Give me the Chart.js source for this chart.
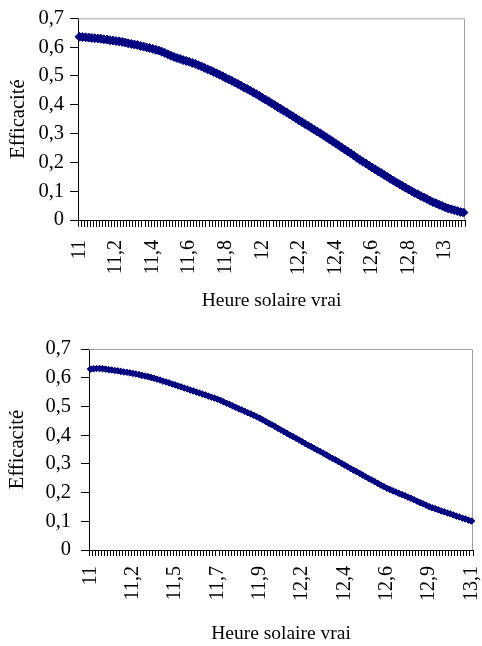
<!DOCTYPE html>
<html lang="fr">
<head>
    <meta charset="UTF-8">
    <title>Efficacité - Heure solaire vrai</title>
    <script src="https://cdn.jsdelivr.net/npm/chart.js"></script>
    <style>
        body { margin: 0; background: #fff; }
        .box { position: absolute; left: 0; width: 482px; }
        #top { top: 0; height: 313px; }
        #bottom { top: 320px; height: 326px; }
    </style>
</head>
<body>
    <div class="box" id="top"><canvas id="chartTop" width="482" height="313"></canvas></div>
    <div class="box" id="bottom"><canvas id="chartBottom" width="482" height="326"></canvas></div>

    <script>
        // one category per minute, from 11:00 to 13:06
        const minutes = Array.from({ length: 127 }, (_, i) => i);

        const topTickLabels = ['11', '11,2', '11,4', '11,6', '11,8', '12', '12,2', '12,4', '12,6', '12,8', '13'];
        const topLabelEvery = 12;
        const topValues = [
            0.636, 0.635, 0.634, 0.633, 0.632, 0.631, 0.630, 0.629,
            0.627, 0.626, 0.624, 0.623, 0.621, 0.620, 0.618,
            0.616, 0.613, 0.611, 0.609, 0.607, 0.604,
            0.602, 0.599, 0.597, 0.594, 0.591, 0.588,
            0.584, 0.580, 0.575, 0.570, 0.566, 0.562,
            0.559, 0.555, 0.552, 0.549, 0.545, 0.542,
            0.537, 0.533, 0.528, 0.523, 0.519, 0.514,
            0.509, 0.504, 0.499, 0.493, 0.488, 0.483,
            0.477, 0.472, 0.466, 0.460, 0.455, 0.449,
            0.443, 0.437, 0.431, 0.424, 0.418, 0.412,
            0.405, 0.399, 0.392, 0.386, 0.379, 0.373,
            0.366, 0.360, 0.353, 0.346, 0.340, 0.333,
            0.327, 0.320, 0.314, 0.307, 0.301, 0.294,
            0.287, 0.280, 0.273, 0.266, 0.259, 0.252,
            0.245, 0.238, 0.231, 0.224, 0.216, 0.209,
            0.202, 0.196, 0.189, 0.182, 0.176, 0.169,
            0.163, 0.156, 0.150, 0.143, 0.137, 0.130,
            0.124, 0.118, 0.112, 0.106, 0.100, 0.094,
            0.089, 0.083, 0.078, 0.073, 0.067, 0.062,
            0.058, 0.053, 0.049, 0.044, 0.040,
            0.037, 0.034, 0.031, 0.028, 0.026
        ];

        const bottomTickLabels = ['11', '11,2', '11,5', '11,7', '11,9', '12,2', '12,4', '12,6', '12,9', '13,1'];
        const bottomLabelEvery = 14;
        const bottomValues = [
            0.630, 0.631, 0.632, 0.632,
            0.631, 0.630, 0.628, 0.627, 0.625, 0.624, 0.622, 0.620, 0.619, 0.617, 0.615,
            0.613, 0.611, 0.608, 0.606, 0.604, 0.601,
            0.598, 0.595, 0.592, 0.588, 0.585, 0.582, 0.578, 0.575,
            0.571, 0.568, 0.564, 0.561, 0.557,
            0.554, 0.550, 0.547, 0.543, 0.540, 0.536, 0.532, 0.529, 0.525,
            0.521, 0.516, 0.511, 0.507, 0.502, 0.497,
            0.492, 0.488, 0.483, 0.478, 0.474, 0.469, 0.464, 0.459,
            0.453, 0.447, 0.441, 0.436, 0.430, 0.424,
            0.418, 0.412, 0.406, 0.400, 0.395, 0.389, 0.383, 0.377,
            0.371, 0.365, 0.360, 0.354, 0.348, 0.343, 0.337,
            0.331, 0.325, 0.319, 0.314, 0.308, 0.302, 0.296,
            0.290, 0.284, 0.278, 0.273, 0.267, 0.261, 0.255,
            0.249, 0.244, 0.238, 0.232, 0.226, 0.221, 0.215,
            0.211, 0.206, 0.202, 0.197, 0.193, 0.189, 0.184, 0.180,
            0.175, 0.170, 0.165, 0.161, 0.156, 0.151,
            0.147, 0.144, 0.140, 0.136, 0.133, 0.129, 0.126, 0.122,
            0.118, 0.115, 0.111, 0.108, 0.104, 0.101
        ];

        const yTicks = [0, 0.1, 0.2, 0.3, 0.4, 0.5, 0.6, 0.7];

        const serif = "'Liberation Serif', 'Times New Roman', serif";

        // grey top and right edges of the plot area (Excel style)
        const plotFrame = {
            id: 'plotFrame',
            beforeDatasetsDraw(chart) {
                const a = chart.chartArea;
                const ctx = chart.ctx;
                ctx.save();
                ctx.strokeStyle = '#a0a0a0';
                ctx.lineWidth = 1;
                ctx.beginPath();
                ctx.moveTo(a.left, a.top + 0.5);
                ctx.lineTo(a.right - 0.5, a.top + 0.5);
                ctx.lineTo(a.right - 0.5, a.bottom);
                ctx.stroke();
                ctx.restore();
            }
        };

        function makeChart(id, values, tickLabels, every, o) {
            const ctx = document.getElementById(id).getContext('2d');
            return new Chart(ctx, {
                type: 'line',
                data: {
                    labels: minutes,
                    datasets: [{
                        data: values,
                        borderColor: '#000080',
                        backgroundColor: '#000080',
                        borderWidth: o.line,
                        pointStyle: 'rectRot',
                        pointRadius: o.radius,
                        pointBorderWidth: 1,
                        pointBackgroundColor: '#000080',
                        pointBorderColor: '#000080',
                        fill: false
                    }]
                },
                options: {
                    responsive: false,
                    animation: false,
                    events: [],
                    layout: { padding: { top: o.top, right: o.right, left: 0, bottom: 0 } },
                    plugins: { legend: { display: false }, tooltip: { enabled: false } },
                    scales: {
                        x: {
                            type: 'category',
                            offset: true,
                            afterFit: s => {
                                s.height = o.xHeight;
                                s.paddingLeft = 0;
                                s.paddingRight = 0;
                            },
                            grid: { offset: true, drawOnChartArea: false, tickLength: o.xTick, color: '#000' },
                            border: { color: '#000' },
                            ticks: {
                                autoSkip: false,
                                maxRotation: 90,
                                minRotation: 90,
                                padding: o.xPad,
                                color: '#000',
                                font: { family: serif, size: 20 },
                                callback: (v, i) => (i % every === 0 ? tickLabels[i / every] : '')
                            },
                            title: {
                                display: true,
                                text: 'Heure solaire vrai',
                                color: '#000',
                                font: { family: serif, size: 19.5 },
                                padding: { top: 0, bottom: 0 }
                            }
                        },
                        y: {
                            min: 0,
                            max: 0.7,
                            afterFit: s => { s.width = o.yWidth; },
                            afterBuildTicks: s => { s.ticks = yTicks.map(v => ({ value: v })); },
                            grid: { drawOnChartArea: false, tickLength: 8, color: '#000' },
                            border: { color: '#000' },
                            ticks: {
                                padding: o.yPad,
                                color: '#000',
                                font: { family: serif, size: 20.5 },
                                callback: v => (v === 0 ? '0' : v.toFixed(1).replace('.', ','))
                            },
                            title: {
                                display: true,
                                text: 'Efficacité',
                                color: '#000',
                                font: { family: serif, size: 20.5 },
                                padding: { top: o.yTitlePad, bottom: 0 }
                            }
                        }
                    }
                },
                plugins: [plotFrame]
            });
        }

        makeChart('chartTop', topValues, topTickLabels, topLabelEvery,
            { radius: 4.5, line: 6, top: 12, right: 17, xHeight: 93, xTick: 7, xPad: 13, yWidth: 78, yPad: 6, yTitlePad: 6 });

        makeChart('chartBottom', bottomValues, bottomTickLabels, bottomLabelEvery,
            { radius: 3.3, line: 4.5, top: 29, right: 9, xHeight: 96, xTick: 6, xPad: 10, yWidth: 89, yPad: 10, yTitlePad: 5 });
    </script>
</body>
</html>
